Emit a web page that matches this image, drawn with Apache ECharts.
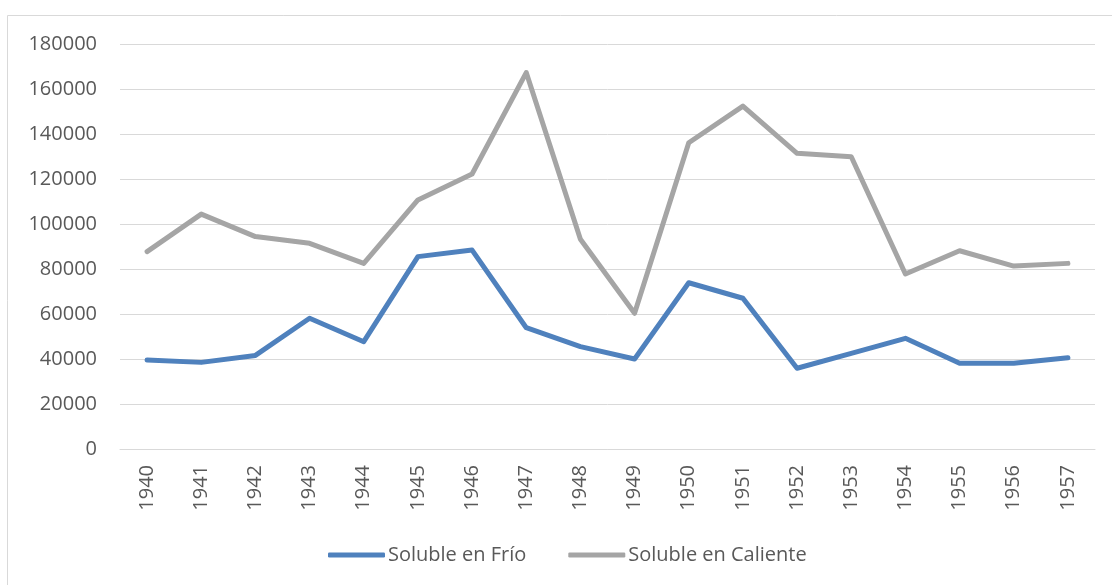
<!DOCTYPE html>
<html>
<head>
<meta charset="utf-8">
<script src="https://cdn.jsdelivr.net/npm/echarts@6/dist/echarts.min.js"></script>
<style>
    html, body { margin: 0; padding: 0; background: #fff; }
    #chart { width: 1112px; height: 585px; }
</style>
</head>
<body>
<div id="chart"></div>
<script>
    // data
    var years = ['1940','1941','1942','1943','1944','1945','1946','1947','1948',
                 '1949','1950','1951','1952','1953','1954','1955','1956','1957'];
    var frio = [39600, 38500, 41600, 58100, 47700, 85500, 88400, 53900, 45500,
                40000, 73900, 67000, 35900, 42500, 49200, 38100, 38100, 40600];
    var caliente = [87700, 104400, 94400, 91400, 82500, 110700, 122200, 167300, 93200,
                    60300, 136100, 152400, 131400, 129900, 77800, 88100, 81300, 82500];
    var names = ['Soluble en Frío', 'Soluble en Caliente'];

    var textColor = '#595959';
    var font = 'Open Sans';

    var chart = echarts.init(document.getElementById('chart'));

    var option = {
        animation: false,
        color: ['#4F81BD', '#A5A5A5'],
        graphic: [{
            type: 'rect',
            shape: { x: 7.5, y: 15.5, width: 1120, height: 600 },
            style: { fill: 'none', stroke: '#D9D9D9', lineWidth: 1 },
            silent: true
        }],
        grid: { left: 120, right: 17, top: 44, height: 405 },
        legend: {
            left: 323,
            top: 540,
            itemGap: 42,
            itemWidth: 57,
            itemHeight: 5,
            icon: 'roundRect',
            textStyle: { color: textColor, fontFamily: font, fontSize: 20, padding: [0, 0, 0, -2] },
            data: names
        },
        xAxis: {
            type: 'category',
            data: years,
            boundaryGap: true,
            axisLine: { show: true, lineStyle: { color: '#D9D9D9', width: 1 } },
            axisTick: { show: false },
            axisLabel: { rotate: 90, margin: 16, color: textColor, fontFamily: font, fontSize: 20, interval: 0 }
        },
        yAxis: {
            type: 'value',
            min: 0,
            max: 180000,
            interval: 20000,
            axisLine: { show: false },
            axisTick: { show: false },
            axisLabel: {
                margin: 23, color: textColor, fontFamily: font, fontSize: 20,
                formatter: function (v) { return String(v); }
            },
            splitLine: { lineStyle: { color: '#D9D9D9', width: 1 } }
        },
        series: [
            {
                name: names[0],
                type: 'line',
                data: frio,
                showSymbol: false,
                symbol: 'none',
                lineStyle: { width: 5, cap: 'round', join: 'round' }
            },
            {
                name: names[1],
                type: 'line',
                data: caliente,
                showSymbol: false,
                symbol: 'none',
                lineStyle: { width: 5, cap: 'round', join: 'round' }
            }
        ]
    };

    chart.setOption(option);
</script>
</body>
</html>
